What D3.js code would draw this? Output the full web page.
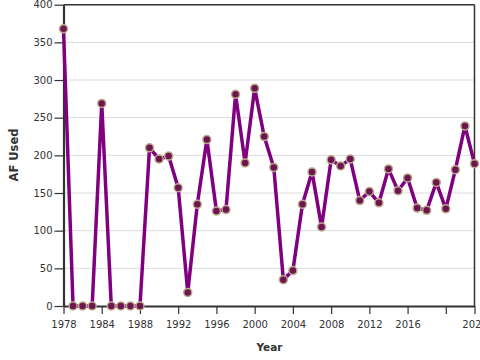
<!DOCTYPE html>
<html><head><meta charset="utf-8">
<script src="https://cdn.jsdelivr.net/npm/d3@7"></script>
<style>
body{margin:0;background:#fff;}
svg{display:block;font-family:"DejaVu Sans",sans-serif;}
</style></head>
<body><svg id="c" width="480" height="360"></svg>
<script>
const years = [1978,1981,1982,1983,1984,1985,1986,1987,1988,1989,1990,1991,1992,1993,1994,1995,1996,1997,1998,1999,2000,2001,2002,2003,2004,2005,2006,2007,2008,2009,2010,2011,2012,2013,2014,2015,2016,2017,2018,2019,2020,2021,2022,2023];
const afUsed = [368,0,0,0,269,0,0,0,0,210,195,199,157,18,135,221,126,128,281,190,289,225,184,35,47,135,178,105,194,186,195,140,152,137,182,153,170,130,127,164,129,181,239,189];
const xTickValues = [1978,1984,1988,1992,1996,2000,2004,2008,2012,2016,2020,2023];
const xTickLabels = ["1978","1984","1988","1992","1996","2000","2004","2008","2012","2016","","2023"];
const yTickValues = [0,50,100,150,200,250,300,350,400];

const svg = d3.select("#c");
const m = {l:63.5, r:5.5, t:4.7, b:54};
const W = 480, H = 360;
const x = d3.scalePoint().domain(years).range([m.l, W - m.r]);
const y = d3.scaleLinear().domain([0,400]).range([H - m.b, m.t]);

// grid
svg.append("g").selectAll("line").data(yTickValues.slice(1)).join("line")
  .attr("x1", m.l).attr("x2", W - m.r)
  .attr("y1", d => y(d)).attr("y2", d => y(d))
  .attr("stroke", "#dcdcdc").attr("stroke-width", 1);

// frame top/right
svg.append("line").attr("x1", m.l).attr("x2", W - m.r).attr("y1", y(400)).attr("y2", y(400))
  .attr("stroke", "#333").attr("stroke-width", 1.5);
svg.append("line").attr("x1", W - m.r).attr("x2", W - m.r).attr("y1", y(400)).attr("y2", y(0))
  .attr("stroke", "#333").attr("stroke-width", 1.5);

// axes
const labelMap = new Map(xTickValues.map((v,i)=>[v, xTickLabels[i]]));
const xAxis = svg.append("g").attr("transform", `translate(0,${y(0)})`)
  .call(d3.axisBottom(x).tickValues(xTickValues).tickFormat(d => labelMap.get(d)).tickSize(8).tickPadding(7).tickSizeOuter(0));
const yAxis = svg.append("g").attr("transform", `translate(${m.l},0)`)
  .call(d3.axisLeft(y).tickValues(yTickValues).tickSize(9).tickPadding(2).tickSizeOuter(0));
[xAxis, yAxis].forEach(g => {
  g.select(".domain").attr("stroke", "#333").attr("stroke-width", 2.2);
  g.selectAll(".tick line").attr("stroke", "#333").attr("stroke-width", 1.2);
  g.selectAll(".tick text").attr("fill", "#333").attr("font-size", 10).attr("font-family", "DejaVu Sans");
});

// line
svg.append("path").datum(years.map((yr,i)=>[yr, afUsed[i]]))
  .attr("fill", "none").attr("stroke", "#800080").attr("stroke-width", 3.5)
  .attr("stroke-linejoin", "round")
  .attr("d", d3.line().x(d => x(d[0])).y(d => y(d[1])));

// points
svg.append("g").selectAll("circle").data(years.map((yr,i)=>[yr, afUsed[i]])).join("circle")
  .attr("cx", d => x(d[0])).attr("cy", d => y(d[1])).attr("r", 4)
  .attr("fill", "#6e1450").attr("stroke", "#b8aa8a").attr("stroke-width", 1.5);

// titles
svg.append("text").attr("x", 269.5).attr("y", 351).attr("text-anchor", "middle")
  .attr("font-size", 10.5).attr("font-weight", "bold").attr("fill", "#333").text("Year");
svg.append("text").attr("transform", "translate(18,155) rotate(-90)").attr("text-anchor", "middle")
  .attr("font-size", 11.5).attr("font-weight", "bold").attr("fill", "#333").text("AF Used");
</script></body></html>
